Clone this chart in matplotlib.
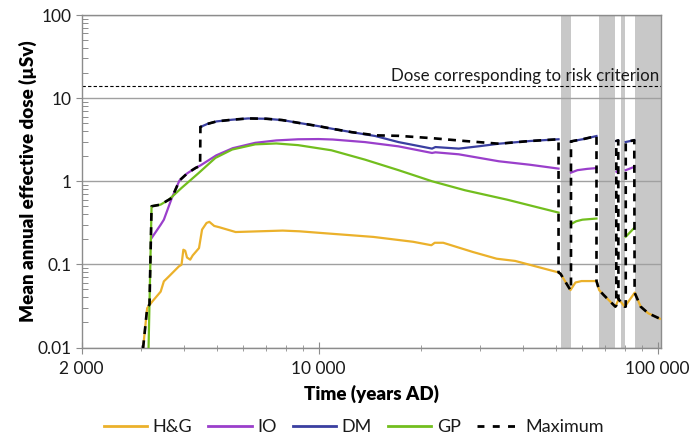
import numpy as np
import matplotlib.pyplot as plt
from matplotlib.lines import Line2D
from matplotlib.ticker import FixedLocator, NullFormatter

nan = np.nan

# Tidsperioder med glaciala förhållanden (grå band)
band_start = [51700, 67000, 77900, 85500]
band_end = [55400, 74700, 79900, 110000]

# H&G
hg_x = [3035, 3120, 3230, 3420, 3495, 3615, 3870, 3940, 3990, 4040, 4090, 4180, 4250,
        4437, 4530, 4670, 4760, 4920, 5090, 5690, 6670, 7830, 8780, 10000, 14500, 19000,
        21500, 22000, 23300, 28500, 33500, 38000, 51000, 51700, 55300, 57200, 59600,
        66000, 67200, 69300, 75000, 76700, 79970, 85580, 89100, 93800, 101500]
hg_y = [0.0098, 0.0297, 0.0357, 0.047, 0.0625, 0.0715, 0.0946, 0.099, 0.150, 0.146, 0.121,
        0.114, 0.128, 0.157, 0.262, 0.315, 0.325, 0.29, 0.28, 0.245, 0.25, 0.255, 0.25, 0.24,
        0.214, 0.187, 0.17, 0.182, 0.182, 0.141, 0.117, 0.110, 0.08, 0.077, 0.049, 0.0605,
        0.063, 0.063, 0.049, 0.0428, 0.031, 0.038, 0.031, 0.0457, 0.031, 0.0258, 0.0222]

# IO
io_x = [3215, 3420, 3495, 3690, 3885, 4100, 4340, 4480, 4990, 5580, 6500, 7500, 8700,
        10000, 11000, 13700, 17200, 21600, 22100, 25900, 34000, 42000, 51000, nan,
        55500, 58000, 62000, 66000, nan, 75600, 76400, nan, 80500, 85300]
io_y = [0.207, 0.30, 0.345, 0.63, 1.02, 1.25, 1.45, 1.55, 2.05, 2.5, 2.9, 3.1, 3.2,
        3.22, 3.18, 2.96, 2.63, 2.19, 2.23, 2.11, 1.74, 1.58, 1.42, nan,
        1.27, 1.36, 1.41, 1.44, nan, 1.30, 1.36, nan, 1.36, 1.49]

# DM
dm_x = [4480, 4700, 5000, 5550, 6200, 7000, 7800, 8700, 10000, 10900, 12500, 14700,
        17200, 21600, 22100, 25900, 30000, 34000, 42000, 51000, nan,
        55500, 60000, 66000, nan, 75500, 76500, nan, 80500, 85300]
dm_y = [4.5, 4.9, 5.25, 5.5, 5.7, 5.65, 5.45, 5.05, 4.6, 4.3, 3.9, 3.5,
        2.96, 2.47, 2.58, 2.47, 2.65, 2.83, 3.05, 3.2, nan,
        3.02, 3.2, 3.5, nan, 3.05, 3.1, nan, 2.97, 3.12]

# GP
gp_x = [3150, 3215, 3420, 3615, 3940, 4430, 4960, 5560, 6500, 7500, 8700, 10900, 13700,
        17200, 21600, 27000, 36000, 51000, nan, 55500, 57500, 60000, 66000, nan,
        80500, 85300]
gp_y = [0.01, 0.5, 0.524, 0.6, 0.83, 1.26, 1.91, 2.41, 2.78, 2.85, 2.72, 2.36, 1.82,
        1.36, 1.0, 0.78, 0.6, 0.42, nan, 0.305, 0.33, 0.345, 0.356, nan,
        0.215, 0.275]

# Maximum
max_x = [3035, 3120, 3170, 3215, 3420, 3615, 3690, 3885, 4100, 4340, 4470, 4480, 4700,
         5000, 5550, 6200, 7000, 7800, 8700, 10000, 10900, 12500, 14700, 17200, 21600,
         27000, 34000, 42000, 51000, 51000, 51700, 55300, 55500, 55500, 60000, 66000,
         66000, 67200, 69300, 75000, 75500, 75500, 76500, 76600, 76700, 79970, 80500,
         80500, 85300, 85500, 89100, 93800, 101500]
max_y = [0.0098, 0.0297, 0.033, 0.5, 0.524, 0.6, 0.63, 1.02, 1.25, 1.45, 1.53, 4.5, 4.9,
         5.25, 5.5, 5.7, 5.65, 5.45, 5.05, 4.6, 4.3, 3.9, 3.57, 3.52, 3.3,
         3.05, 2.83, 3.05, 3.2, 0.08, 0.077, 0.049, 0.049, 3.02, 3.2, 3.5,
         0.063, 0.049, 0.0428, 0.031, 0.032, 3.05, 3.1, 0.038, 0.038, 0.031, 0.031,
         2.97, 3.12, 0.0457, 0.031, 0.0258, 0.0222]

risk_dose = 14

col_hg = "#EBB12B"
col_io = "#9A3FCB"
col_dm = "#3A3FA0"
col_gp = "#72BE1E"

plt.rcParams["font.family"] = ["Lato", "DejaVu Sans"]
plt.rcParams["text.color"] = "#1a1a1a"

fig = plt.figure(figsize=(6.91, 4.42), dpi=100)
ax = fig.add_axes([0.1182, 0.2138, 0.8378, 0.7522])

for s, e in zip(band_start, band_end):
    ax.axvspan(s, e, color="#C8C8C8", lw=0, zorder=0.5)

ax.plot(hg_x, hg_y, color=col_hg, lw=1.6, zorder=3)
ax.plot(io_x, io_y, color=col_io, lw=1.6, zorder=3)
ax.plot(dm_x, dm_y, color=col_dm, lw=1.6, zorder=3)
ax.plot(gp_x, gp_y, color=col_gp, lw=1.6, zorder=3)
ax.plot(max_x, max_y, color="black", lw=1.9, dashes=(3, 2.4), zorder=4)

ax.axhline(risk_dose, color="black", lw=0.8, dashes=(3, 2), zorder=2)
ax.text(0.997, 14.9, "Dose corresponding to risk criterion", transform=ax.get_yaxis_transform(),
        ha="right", va="bottom", fontsize=12.2, color="#1a1a1a")

ax.set_xscale("log")
ax.set_yscale("log")
ax.set_xlim(2000, 102000)
ax.set_ylim(0.01, 100)

ax.xaxis.set_major_locator(FixedLocator([2000, 10000, 100000]))
ax.set_xticklabels(["2 000", "10 000", "100 000"])
ax.xaxis.set_minor_locator(FixedLocator([3000, 4000, 5000, 6000, 7000, 8000, 9000,
                                         20000, 30000, 40000, 50000, 60000, 70000, 80000, 90000]))
ax.xaxis.set_minor_formatter(NullFormatter())
ax.yaxis.set_major_locator(FixedLocator([0.01, 0.1, 1, 10, 100]))
ax.set_yticklabels(["0.01", "0.1", "1", "10", "100"])
ax.yaxis.set_minor_locator(FixedLocator([m * 10.0 ** k for k in range(-2, 2) for m in range(2, 10)]))
ax.yaxis.set_minor_formatter(NullFormatter())

ax.grid(True, which="major", axis="y", color="#A0A0A0", lw=1, zorder=1)
ax.set_axisbelow(True)
for sp in ax.spines.values():
    sp.set_color("#8C8C8C")
    sp.set_linewidth(1)
ax.tick_params(axis="x", which="major", direction="inout", length=8, color="#8C8C8C",
               labelsize=12.5, pad=6, labelcolor="#1a1a1a")
ax.tick_params(axis="x", which="minor", direction="inout", length=5, color="#8C8C8C")
ax.tick_params(axis="y", which="major", direction="out", length=4, color="#8C8C8C",
               labelsize=12.5, labelcolor="#1a1a1a")
ax.tick_params(axis="y", which="minor", direction="in", length=4, color="#8C8C8C", width=0.7)

ax.set_xlabel("Time (years AD)", fontsize=13.5, fontweight="heavy", labelpad=5)
ax.set_ylabel("Mean annual effective dose (µSv)", fontsize=13.5, fontweight="heavy", labelpad=0)

handles = [Line2D([], [], color=col_hg, lw=2),
           Line2D([], [], color=col_io, lw=2),
           Line2D([], [], color=col_dm, lw=2),
           Line2D([], [], color=col_gp, lw=2),
           Line2D([], [], color="black", lw=2, dashes=(2.5, 3))]
fig.legend(handles, ["H&G", "IO", "DM", "GP", "Maximum"], loc="center",
           bbox_to_anchor=(0.512, 0.034), ncol=5, frameon=False, fontsize=13,
           handlelength=2.4, columnspacing=0.9, handletextpad=0.3)

fig.savefig("out.png", dpi=100)
